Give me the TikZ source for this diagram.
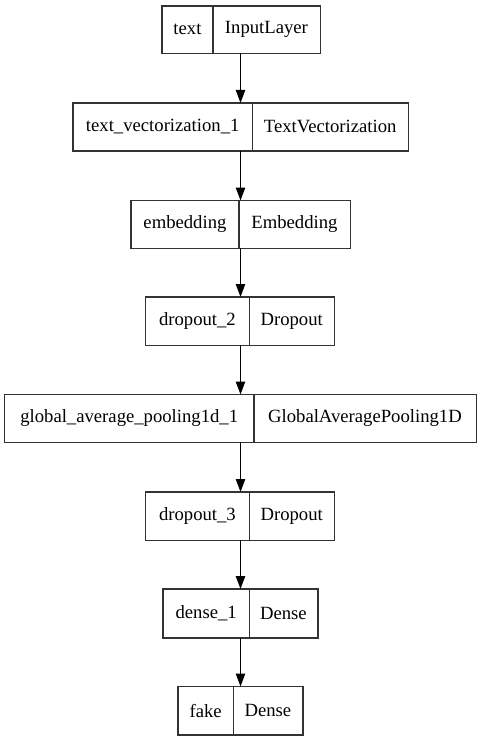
\documentclass[tikz,border=0pt]{standalone}
\usepackage{fontspec}
\setmainfont{Liberation Serif}
\usetikzlibrary{arrows.meta}
\begin{document}
\begin{tikzpicture}[x=1pt,y=-1pt,
  cell/.style={inner sep=0pt, font=\fontsize{18.67}{22}\selectfont},
  frame/.style={draw=black!80, line width=1.4pt},
  conn/.style={black, line width=1.4pt, -{Triangle[length=13pt,width=9.3pt]}}]
\useasboundingbox (0,0) rectangle (481,741);
% box helper: name, left, divider, right, top, bottom, left text, right text
\newcommand{\lbox}[8]{%
  \node[cell, minimum width={#3-#2}, minimum height={#6-#5}, anchor=north west] (#1l) at (#2,#5) {#7};
  \node[cell, minimum width={#4-#3}, minimum height={#6-#5}, anchor=north west] (#1r) at (#3,#5) {#8};
  \draw[frame] (#1l.north west) rectangle (#1r.south east);
  \draw[frame] (#1l.north east) -- (#1l.south east);
  \coordinate (#1t) at (240.5,#5);
  \coordinate (#1b) at (240.5,#6);
}
\lbox{a}{162}{212.5}{320}{6}{53}{text}{InputLayer}
\lbox{b}{73}{252}{408}{103}{150.5}{text\_vectorization\_1}{TextVectorization}
\lbox{c}{131}{238.5}{350}{200.5}{248}{embedding}{Embedding}
\lbox{d}{145.5}{249}{334}{297}{345}{dropout\_2}{Dropout}
\lbox{e}{4.5}{253.5}{476}{394.5}{442}{global\_average\_pooling1d\_1}{GlobalAveragePooling1D}
\lbox{f}{145.5}{249}{334}{492}{540}{dropout\_3}{Dropout}
\lbox{g}{163}{249}{317.5}{589}{637.5}{dense\_1}{Dense}
\lbox{h}{178}{233}{302.5}{686.5}{734.5}{fake}{Dense}
\draw[conn] (ab) -- (bt);
\draw[conn] (bb) -- (ct);
\draw[conn] (cb) -- (dt);
\draw[conn] (db) -- (et);
\draw[conn] (eb) -- (ft);
\draw[conn] (fb) -- (gt);
\draw[conn] (gb) -- (ht);
\end{tikzpicture}
\end{document}
